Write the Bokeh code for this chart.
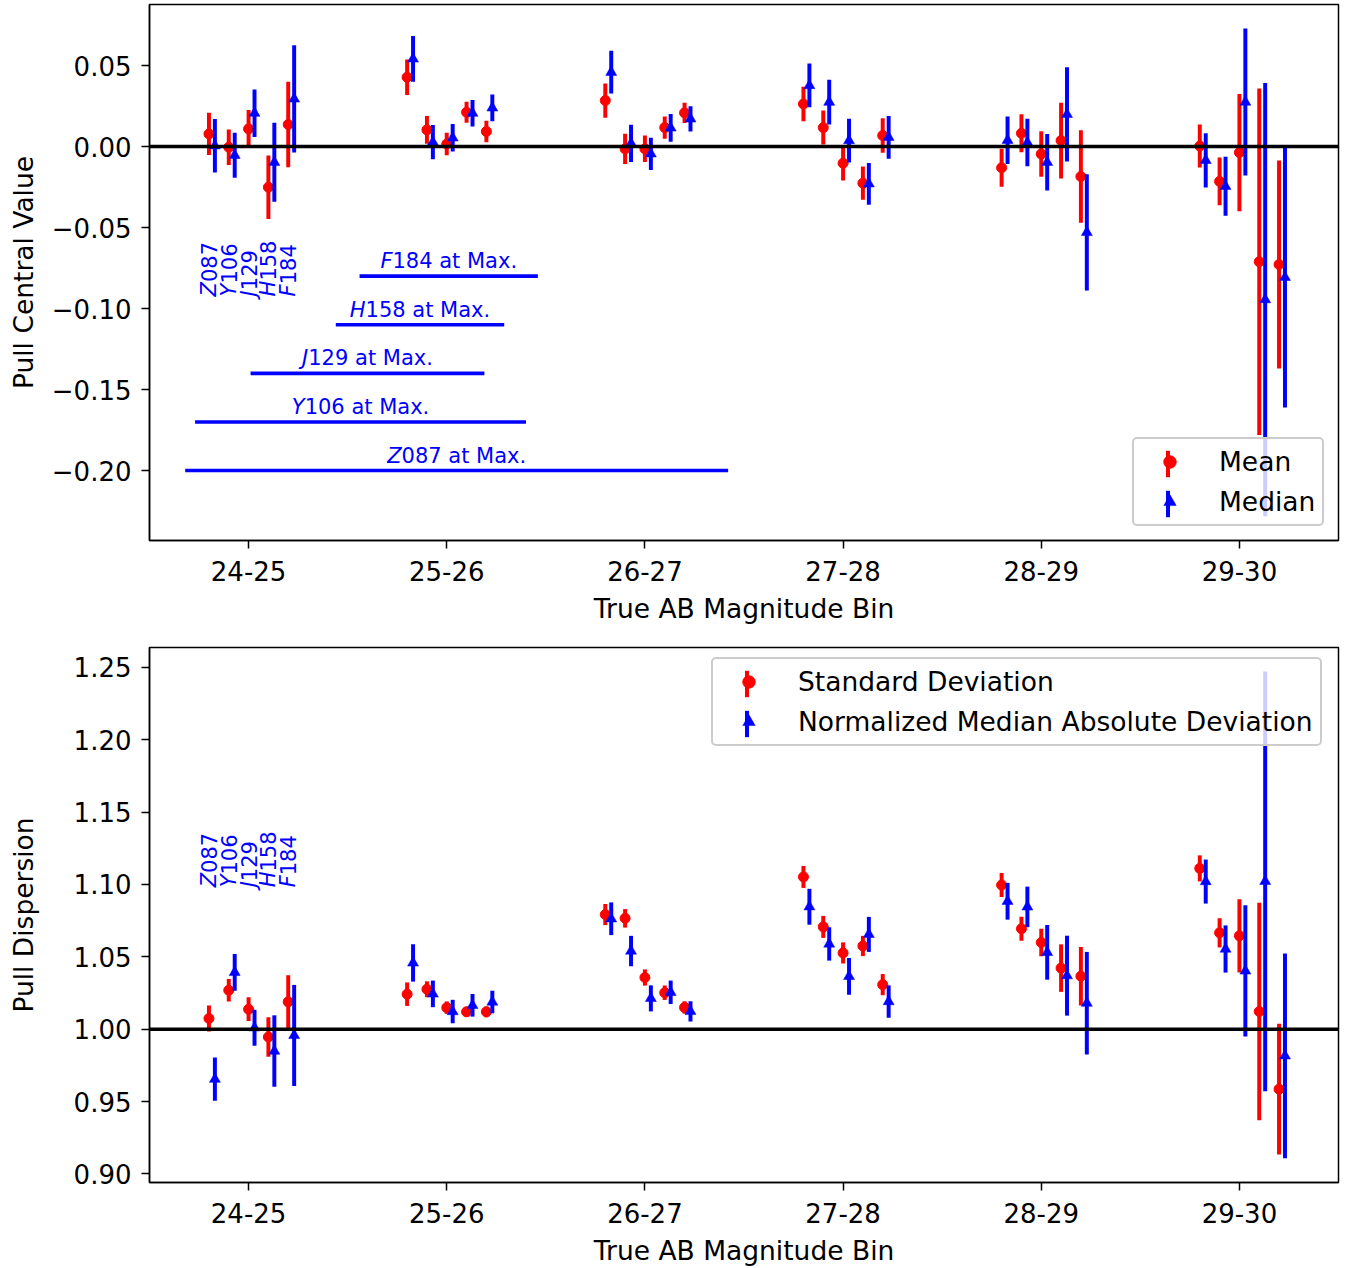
import numpy as np
from bokeh.plotting import figure
from bokeh.models import Range1d, FixedTicker, Span, Legend, LegendItem, ColumnDataSource
from bokeh.layouts import column
from bokeh.embed import file_html
from bokeh.resources import INLINE
from bokeh.core.properties import value

# ---------------- data ----------------
bins = ["24-25", "25-26", "26-27", "27-28", "28-29", "29-30"]
filters = ["Z087", "Y106", "J129", "H158", "F184"]

# Pull central value (rows: filters, columns: magnitude bins)
central_mean = [
    [0.0078, 0.0428, 0.0284, 0.0263, -0.0131, 0.0003],
    [-0.0004, 0.0103, -0.0014, 0.0117, 0.0082, -0.0215],
    [0.0109, 0.0016, -0.0014, -0.0103, -0.0046, -0.0037],
    [-0.0251, 0.0212, 0.0117, -0.0226, 0.0037, -0.0711],
    [0.0136, 0.0093, 0.0208, 0.0068, -0.0185, -0.0728],
]
central_mean_err = [
    [0.0130, 0.0110, 0.0106, 0.0107, 0.0117, 0.0133],
    [0.0110, 0.0085, 0.0093, 0.0105, 0.0117, 0.0147],
    [0.0117, 0.0069, 0.0082, 0.0106, 0.0140, 0.0362],
    [0.0196, 0.0065, 0.0069, 0.0103, 0.0234, 0.1070],
    [0.0264, 0.0067, 0.0063, 0.0106, 0.0286, 0.0642],
]
central_median = [
    [0.0005, 0.0541, 0.0459, 0.0377, 0.0039, -0.0085],
    [-0.0054, 0.0027, 0.0020, 0.0274, 0.0025, -0.0245],
    [0.0206, 0.0054, -0.0045, 0.0037, -0.0097, 0.0275],
    [-0.0097, 0.0206, 0.0115, -0.0230, 0.0199, -0.0945],
    [0.0294, 0.0239, 0.0171, 0.0057, -0.0530, -0.0807],
]
central_median_err = [
    [0.0165, 0.0141, 0.0132, 0.0135, 0.0146, 0.0167],
    [0.0139, 0.0106, 0.0115, 0.0138, 0.0147, 0.0182],
    [0.0147, 0.0085, 0.0100, 0.0135, 0.0175, 0.0454],
    [0.0244, 0.0082, 0.0086, 0.0129, 0.0291, 0.1338],
    [0.0331, 0.0082, 0.0078, 0.0132, 0.0359, 0.0804],
]

# Pull dispersion
disp_std = [
    [1.0074, 1.0242, 1.0792, 1.1052, 1.0996, 1.1111],
    [1.0269, 1.0276, 1.0766, 1.0707, 1.0694, 1.0666],
    [1.0138, 1.0149, 1.0357, 1.0527, 1.0599, 1.0645],
    [0.9946, 1.0120, 1.0252, 1.0575, 1.0422, 1.0122],
    [1.0189, 1.0120, 1.0150, 1.0308, 1.0366, 0.9586],
]
disp_std_err = [
    [0.0090, 0.0081, 0.0073, 0.0076, 0.0083, 0.0090],
    [0.0078, 0.0055, 0.0064, 0.0076, 0.0083, 0.0101],
    [0.0082, 0.0043, 0.0056, 0.0073, 0.0095, 0.0253],
    [0.0136, 0.0035, 0.0050, 0.0070, 0.0164, 0.0751],
    [0.0184, 0.0037, 0.0043, 0.0073, 0.0202, 0.0452],
]
disp_nmad = [
    [0.9655, 1.0458, 1.0763, 1.0846, 1.0884, 1.1020],
    [1.0393, 1.0244, 1.0540, 1.0589, 1.0845, 1.0554],
    [1.0010, 1.0122, 1.0213, 1.0365, 1.0531, 1.0403],
    [0.9849, 1.0165, 1.0255, 1.0655, 1.0370, 1.1022],
    [0.9957, 1.0188, 1.0123, 1.0191, 1.0180, 0.9816],
]
disp_nmad_err = [
    [0.0150, 0.0129, 0.0113, 0.0124, 0.0127, 0.0152],
    [0.0127, 0.0092, 0.0105, 0.0115, 0.0140, 0.0163],
    [0.0124, 0.0081, 0.0090, 0.0127, 0.0189, 0.0454],
    [0.0247, 0.0078, 0.0081, 0.0121, 0.0276, 0.1450],
    [0.0349, 0.0078, 0.0070, 0.0112, 0.0354, 0.0707],
]

# magnitude range of each filter at maximum light (AB mag), and the level drawn at
max_mag_lo = [24.18, 24.23, 24.51, 24.94, 25.06]
max_mag_hi = [26.92, 25.90, 25.69, 25.79, 25.96]
max_level = [-0.20, -0.17, -0.14, -0.11, -0.08]

top_yticks = [-0.20, -0.15, -0.10, -0.05, 0.00, 0.05]
bot_yticks = [0.90, 0.95, 1.00, 1.05, 1.10, 1.15, 1.20, 1.25]

# ---------------- style ----------------
FONT = "DejaVu Sans"
TICK_FS = "26px"
LAB_FS = "26.5px"
ANN_FS = 21
RED = "#ff0000"
BLUE = "#0000ff"
W = 1340
mean_off = [-0.2, -0.1, 0.0, 0.1, 0.2]
med_shift = 0.03
first_bin_center = 24.5

ADV = {"0": .636, "1": .636, "2": .636, "3": .636, "4": .636, "5": .636, "6": .636,
       "7": .636, "8": .636, "9": .636, " ": .318, "a": .613, "t": .392, "M": .863,
       "x": .592, ".": .318, "Z": .685, "Y": .611, "J": .295, "H": .752, "F": .575}


def tw(s, fs):
    return sum(ADV.get(c, 0.6) for c in s) * fs


def make_src(vals, errs, shift):
    xs, ys, lo, hi = [], [], [], []
    for fi in range(len(filters)):
        for bi in range(len(bins)):
            v = vals[fi][bi]
            e = errs[fi][bi]
            xs.append(bi + mean_off[fi] + shift)
            ys.append(v)
            lo.append(v - e)
            hi.append(v + e)
    return ColumnDataSource(dict(x=xs, y=ys, lo=lo, hi=hi))


def make_fig(height, btop, bbot, yr, yticks, ylabel, ylab_standoff):
    p = figure(width=W, height=height, x_range=Range1d(-0.5, 5.5), y_range=Range1d(*yr),
               output_backend="svg", toolbar_location=None,
               min_border_left=149, min_border_right=2, min_border_top=btop,
               min_border_bottom=bbot)
    p.grid.visible = False
    p.outline_line_color = "black"
    p.outline_line_width = 1.5
    p.outline_line_alpha = 1.0
    p.background_fill_color = "white"
    p.border_fill_color = "white"
    p.xaxis.ticker = FixedTicker(ticks=list(range(len(bins))))
    p.xaxis.major_label_overrides = {i: b for i, b in enumerate(bins)}
    p.yaxis.ticker = FixedTicker(ticks=yticks)
    p.yaxis.major_label_overrides = {t: f"{t:.2f}".replace("-", "\u2212") for t in yticks}
    p.xaxis.axis_label = "True AB Magnitude Bin"
    p.yaxis.axis_label = ylabel
    for ax in p.axis:
        ax.major_label_text_font = FONT
        ax.major_label_text_font_size = TICK_FS
        ax.major_label_text_color = "black"
        ax.axis_label_text_font = FONT
        ax.axis_label_text_font_size = LAB_FS
        ax.axis_label_text_font_style = "normal"
        ax.axis_label_text_color = "black"
        ax.axis_line_color = "black"
        ax.axis_line_width = 1.5
        ax.major_tick_line_color = "black"
        ax.major_tick_line_width = 1.5
        ax.major_tick_in = 0
        ax.major_tick_out = 8
        ax.minor_tick_in = 0
        ax.minor_tick_out = 0
        ax.major_label_text_line_height = 1.0
        ax.axis_label_text_line_height = 1.0
    p.xaxis.major_label_standoff = 12
    p.xaxis.axis_label_standoff = 9
    p.yaxis.major_label_standoff = 10
    p.yaxis.axis_label_standoff = ylab_standoff
    return p


def add_points(p, mvals, merrs, dvals, derrs):
    src_m = make_src(mvals, merrs, 0.0)
    src_d = make_src(dvals, derrs, med_shift)
    bar_m = p.vbar(x="x", bottom="lo", top="hi", width=0.02, source=src_m,
                   fill_color=RED, line_color=None)
    sc_m = p.scatter(x="x", y="y", source=src_m, marker="circle", size=10,
                     fill_color=RED, line_color=RED, line_width=1)
    bar_d = p.vbar(x="x", bottom="lo", top="hi", width=0.02, source=src_d,
                   fill_color=BLUE, line_color=None)
    sc_d = p.scatter(x="x", y="y", source=src_d, marker="triangle", size=11,
                     fill_color=BLUE, line_color=BLUE, line_width=0.5)
    return bar_m, sc_m, bar_d, sc_d


def add_filter_column_labels(p, y_anchor):
    xs, letters, rests, offs = [], [], [], []
    for fi, f in enumerate(filters):
        xs.append(mean_off[fi])
        letters.append(f[0])
        rests.append(f[1:])
        offs.append(-tw(f[0], ANN_FS))
    src = ColumnDataSource(dict(x=xs, y=[y_anchor] * len(xs), letter=letters, rest=rests, off=offs))
    p.text(x="x", y="y", text="letter", source=src, angle=np.pi / 2, text_align="left",
           text_baseline="middle", text_font=value(FONT), text_font_size=f"{ANN_FS}px",
           text_font_style="italic", text_color=BLUE)
    p.text(x="x", y="y", text="rest", source=src, angle=np.pi / 2, text_align="left",
           text_baseline="middle", text_font=value(FONT), text_font_size=f"{ANN_FS}px",
           text_color=BLUE, y_offset="off")


def add_legends(p, items_text, sc_m, sc_d, bar_m, bar_d, loc_main, loc_bars):
    leg = Legend(items=[LegendItem(label=value(items_text[0]), renderers=[sc_m]),
                        LegendItem(label=value(items_text[1]), renderers=[sc_d])],
                 location=loc_main, orientation="vertical", glyph_width=57, glyph_height=31,
                 padding=7, spacing=9, label_standoff=21, margin=0,
                 border_line_color="#cccccc", border_line_width=2, border_line_alpha=1.0,
                 background_fill_color="white", background_fill_alpha=0.8,
                 label_text_font=FONT, label_text_font_size=LAB_FS, label_text_color="black",
                 label_text_line_height=1.0)
    if "border_radius" in Legend.properties():
        leg.border_radius = 5
    p.add_layout(leg)
    leg2 = Legend(items=[LegendItem(label=value(""), renderers=[bar_m]),
                         LegendItem(label=value(""), renderers=[bar_d])],
                  location=loc_bars, orientation="vertical", glyph_width=5, glyph_height=33,
                  padding=0, spacing=7, label_standoff=0, margin=0,
                  border_line_color=None, background_fill_color=None, background_fill_alpha=0,
                  label_width=1, label_height=1)
    p.add_layout(leg2)


# ---------------- top panel ----------------
p1 = make_fig(645, 4, 105, (-0.2432, 0.0877), top_yticks, "Pull Central Value", 10)
bm1, sm1, bd1, sd1 = add_points(p1, central_mean, central_mean_err, central_median, central_median_err)
p1.add_layout(Span(location=0, dimension="width", line_color="black", line_width=3.6))

x0s = [m - first_bin_center for m in max_mag_lo]
x1s = [m - first_bin_center for m in max_mag_hi]
p1.segment(x0=x0s, y0=max_level, x1=x1s, y1=max_level, line_color=BLUE, line_width=3.6)

cx, letters, rests, off_l, off_r = [], [], [], [], []
for fi, f in enumerate(filters):
    rest = f[1:] + " at Max."
    wl = tw(f[0], ANN_FS)
    wr = tw(rest, ANN_FS)
    tot = wl + wr
    cx.append((x0s[fi] + x1s[fi]) / 2)
    letters.append(f[0])
    rests.append(rest)
    off_l.append(-tot / 2)
    off_r.append(-tot / 2 + wl)
lab_src = ColumnDataSource(dict(x=cx, y=max_level, letter=letters, rest=rests,
                                offl=off_l, offr=off_r))
p1.text(x="x", y="y", text="letter", source=lab_src, x_offset="offl", y_offset=-15,
        text_align="left", text_baseline="alphabetic", text_font=value(FONT),
        text_font_size=f"{ANN_FS}px", text_font_style="italic", text_color=BLUE)
p1.text(x="x", y="y", text="rest", source=lab_src, x_offset="offr", y_offset=-15,
        text_align="left", text_baseline="alphabetic", text_font=value(FONT),
        text_font_size=f"{ANN_FS}px", text_color=BLUE)

add_filter_column_labels(p1, -0.0925)
add_legends(p1, ["Mean", "Median"], sm1, sd1, bm1, bd1, (983, 14), (1016, 20))

# ---------------- bottom panel ----------------
p2 = make_fig(623, 2, 84, (0.8941, 1.2637), bot_yticks, "Pull Dispersion", 32)
bm2, sm2, bd2, sd2 = add_points(p2, disp_std, disp_std_err, disp_nmad, disp_nmad_err)
p2.add_layout(Span(location=1.0, dimension="width", line_color="black", line_width=3.6))
add_filter_column_labels(p2, 1.098)
add_legends(p2, ["Standard Deviation", "Normalized Median Absolute Deviation"],
            sm2, sd2, bm2, bd2, (562, 436), (595, 442))

layout = column(p1, p2, spacing=0)
open("out.html", "w").write(file_html(layout, INLINE))
